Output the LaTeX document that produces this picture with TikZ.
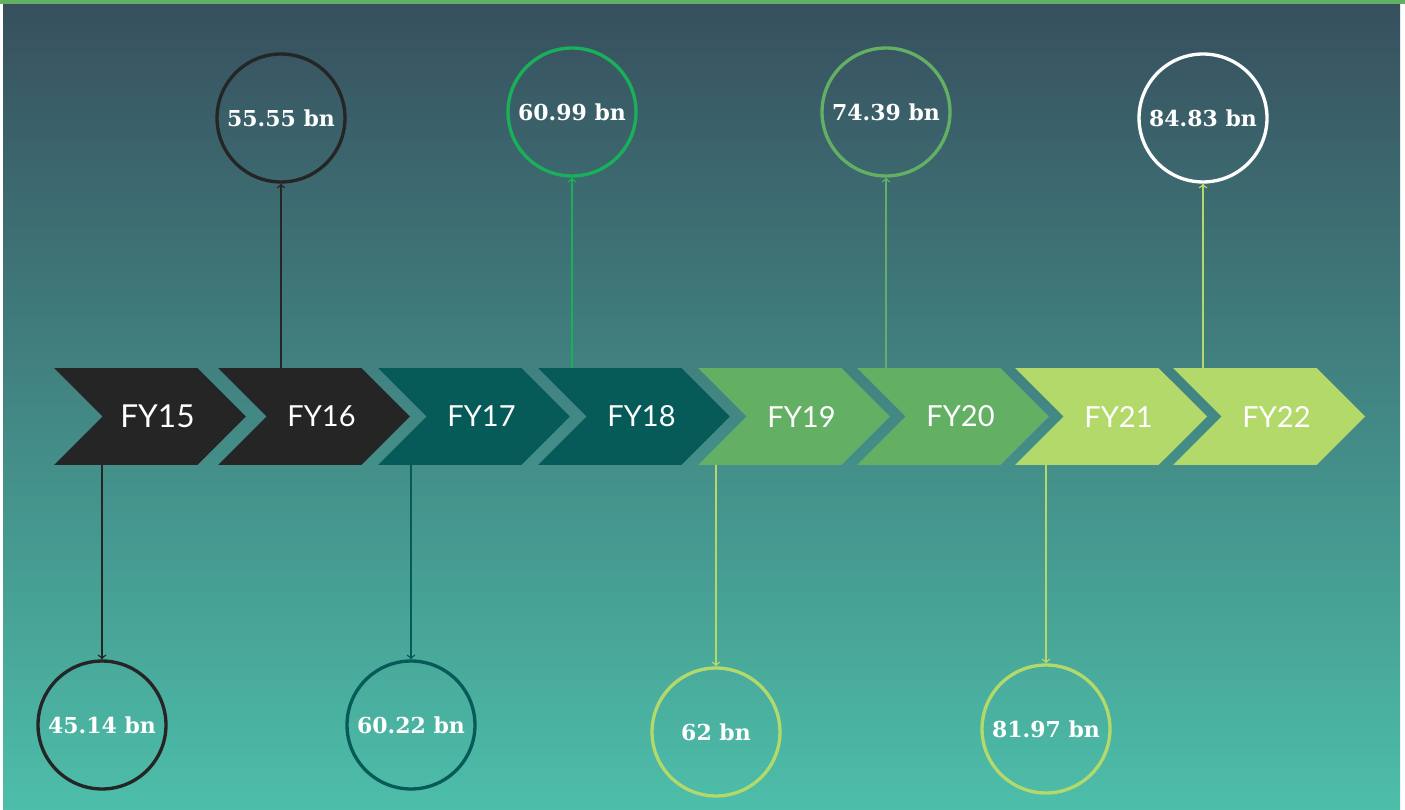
\documentclass[tikz,border=0pt]{standalone}
\usepackage{fontspec}
\setmainfont{Lato}
\newfontfamily\valfont{DejaVu Serif}
\usetikzlibrary{shapes.symbols}

\definecolor{fyblack}{HTML}{252525}
\definecolor{fyteal}{HTML}{065B58}
\definecolor{fygreen}{HTML}{63B065}
\definecolor{fylime}{HTML}{B3D96A}
\definecolor{fybright}{HTML}{1AB05A}
\definecolor{bgtop}{HTML}{37505E}
\definecolor{bgbottom}{HTML}{4DBEA9}

\tikzset{
	fystep/.style={signal, signal from=west, signal to=east, signal pointer angle=90,
		minimum width=3.84cm, minimum height=1.94cm, inner sep=0pt, text=white,
		execute at begin node=\hspace*{0.3cm},
		font=\fontsize{16.5}{17}\selectfont},
	valring/.style={circle, draw, minimum size=2.56cm, inner sep=0pt, line width=1.9pt,
		text=white, font=\valfont\bfseries\fontsize{12.5}{13}\selectfont},
	link/.style={->, line width=0.85pt}
}

\begin{document}
\begin{tikzpicture}[x=0.02cm, y=-0.02cm]
			\useasboundingbox (0,0) rectangle (1405,810);
			\fill[white] (0,0) rectangle (1405,810);
			\shade[top color=bgtop, bottom color=bgbottom] (3,4) rectangle (1400,810);
			\fill[fygreen] (0,0) rectangle (1405,4);
			
			% chevrons
			\node[fystep, fill=fyblack, font=\fontsize{18}{19}\selectfont] (f15) at (150,416.5) {FY15};
			\node[fystep, fill=fyblack] (f16) at (314,416.5) {FY16};
			\node[fystep, fill=fyteal] (f17) at (474,416.5) {FY17};
			\node[fystep, fill=fyteal] (f18) at (634,416.5) {FY18};
			\node[fystep, fill=fygreen] (f19) at (794,416.5) {FY19};
			\node[fystep, fill=fygreen] (f20) at (953,416.5) {FY20};
			\node[fystep, fill=fylime] (f21) at (1111,416.5) {FY21};
			\node[fystep, fill=fylime] (f22) at (1269,416.5) {FY22};
			
			% values above
			\node[valring, draw=fyblack] (v16) at (281,118) {55.55 bn};
			\node[valring, draw=fybright] (v18) at (572,112) {60.99 bn};
			\node[valring, draw=fygreen] (v20) at (886,112) {74.39 bn};
			\node[valring, draw=white] (v22) at (1203,118) {84.83 bn};
			
			% values below
			\node[valring, draw=fyblack] (v15) at (102,725) {45.14 bn};
			\node[valring, draw=fyteal] (v17) at (411,725) {60.22 bn};
			\node[valring, draw=fylime] (v19) at (716,732) {62 bn};
			\node[valring, draw=fylime] (v21) at (1046,729) {81.97 bn};
			
			\draw[link, fyblack] (v16 |- f16.north) -- (v16.south);
			\draw[link, fybright] (v18 |- f18.north) -- (v18.south);
			\draw[link, fygreen] (v20 |- f20.north) -- (v20.south);
			\draw[link, fylime] (v22 |- f22.north) -- (v22.south);
			
			\draw[link, fyblack] (v15 |- f15.south) -- (v15.north);
			\draw[link, fyteal] (v17 |- f17.south) -- (v17.north);
			\draw[link, fylime] (v19 |- f19.south) -- (v19.north);
			\draw[link, fylime] (v21 |- f21.south) -- (v21.north);
\end{tikzpicture}
\end{document}
